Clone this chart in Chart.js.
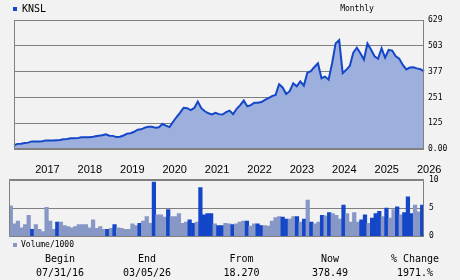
<!DOCTYPE html>
<html><head><meta charset="utf-8">
<script src="https://cdn.jsdelivr.net/npm/chart.js@4.4.1/dist/chart.umd.min.js"></script>
<style>
html,body{margin:0;padding:0;background:#f2f2f2;width:460px;height:280px;overflow:hidden;position:relative;}
canvas{position:absolute;left:0;}
#price{top:0;}
#vol{top:170px;}
.t{position:absolute;font-family:"DejaVu Sans Mono",monospace;color:#000;white-space:nowrap;}
.sq{position:absolute;width:4px;height:4px;}
.c{width:90px;text-align:center;}
</style></head><body>
<canvas id="price" width="460" height="180"></canvas>
<canvas id="vol" width="460" height="76"></canvas>
<div class="sq" style="left:13px;top:7px;background:#1446c8"></div>
<div class="t" id="sym" style="left:22px;top:3px;font-size:10px;line-height:12px"></div>
<div class="t" id="period" style="left:317px;top:4px;width:80px;text-align:center;font-size:8px;line-height:10px"></div>
<div class="sq" style="left:13px;top:243px;background:#8798c6"></div>
<div class="t" id="volLabel" style="left:21px;top:240px;font-size:8px;line-height:10px"></div>
<div id="table"></div>
<script>
// ---- data ----
const symbol = 'KNSL';
const period = 'Monthly';
const volumeLabel = 'Volume/1000';
const startYear = 2016, startMonth = 7, monthCount = 117;
const months = [];
for (let i = 0; i < monthCount; i++) {
  const m = (startMonth - 1 + i) % 12, y = startYear + Math.floor((startMonth - 1 + i) / 12);
  months.push(y + '-' + String(m + 1).padStart(2, '0'));
}
const prices = [
  18.27, 25, 26, 29, 31, 37, 37, 37, 38, 42, 42, 42, 43, 44, 47, 49, 52, 52, 53, 57,
  57, 57, 58, 62, 65, 67, 72, 65, 64, 58, 60, 66, 75, 77, 84, 94, 96, 104, 109, 108,
  104, 106, 122, 114, 107, 133, 156, 177, 201, 199, 190, 200, 231, 199, 184, 174, 169, 176, 170, 168,
  180, 187, 170, 196, 214, 236, 208, 214, 226, 226, 229, 239, 248, 258, 263, 316, 300, 268, 282, 320,
  306, 330, 309, 372, 380, 400, 418, 345, 353, 338, 418, 515, 531, 370, 386, 405, 470, 494, 467, 436,
  515, 485, 452, 440, 491, 445, 483, 480, 452, 440, 410, 388, 397, 398, 393, 389, 378.49
];
const volumes = [
  5.4, 2.2, 2.7, 1.5, 2.05, 3.7, 1.2, 2.05, 1.2, 0.8, 5.1, 2.7, 1.2, 2.5, 2.5, 1.9, 1.7, 1.5, 1.7, 2.05,
  2.05, 2.05, 1.5, 2.9, 1.4, 1.7, 1.2, 1.2, 1.4, 2.05, 1.5, 1.4, 1.2, 1.2, 2.2, 1.9, 2.3, 2.7, 3.5, 2.3,
  9.6, 3.8, 3.8, 3.4, 4.7, 3.5, 3.5, 4.0, 2.3, 2.5, 2.9, 2.3, 2.5, 8.6, 3.8, 4.0, 4.0, 2.2, 1.9, 1.9,
  2.3, 2.2, 2.05, 2.2, 2.5, 2.7, 2.7, 1.8, 2.2, 2.2, 1.9, 1.9, 1.8, 2.7, 3.3, 3.5, 3.4, 3.05, 3.05, 3.5,
  3.5, 2.5, 3.05, 6.4, 2.5, 2.2, 2.5, 3.7, 3.6, 4.2, 4.0, 3.7, 3.05, 5.5, 4.0, 2.5, 4.2, 2.5, 2.9, 3.8,
  2.3, 3.2, 4.0, 4.4, 3.5, 5.0, 3.2, 4.7, 5.2, 3.8, 4.2, 7.0, 4.0, 5.5, 4.3, 5.5
];
const volumeUp = [
  0,0,0,0,0,0,1,0,0,0,0,0,0,1,0,0,0,0,0,0,
  0,0,0,0,0,0,0,1,0,1,0,0,0,0,0,0,1,0,0,0,
  1,0,0,0,1,0,0,0,0,0,1,1,0,1,1,1,1,0,1,1,
  0,0,1,0,0,0,1,0,0,1,1,0,0,0,0,0,1,1,0,0,
  1,0,1,0,1,0,0,1,0,1,0,0,0,1,0,0,0,0,1,1,
  0,1,1,1,0,1,0,0,1,0,1,1,1,0,0,1
];
const priceTicks = [0, 125, 251, 377, 503, 629];
const priceTickLabels = ['0.00', '125', '251', '377', '503', '629'];
const volumeTicks = [0, 5, 10];
const volumeTickLabels = ['0', '5', '10'];
const tableHeads = ['Begin', 'End', 'From', 'Now', '% Change'];
const tableValues = ['07/31/16', '03/05/26', '18.270', '378.49', '1971.%'];

// ---- styles ----
const LINE = '#1446c8', FILL = '#9dafdc', LIGHT = '#8798c6', DARK = '#1446c8', GRID = '#808080';
const MONO = '"DejaVu Sans Mono", monospace';
const colCenters = [60, 147, 241.5, 330, 415];

document.getElementById('sym').textContent = symbol;
document.getElementById('period').textContent = period;
document.getElementById('volLabel').textContent = volumeLabel;
const tbl = document.getElementById('table');
tableHeads.forEach((h, i) => {
  const a = document.createElement('div');
  a.className = 't c'; a.textContent = h;
  a.style.cssText = `left:${colCenters[i]-45}px;top:253px;font-size:10px;line-height:12px`;
  tbl.appendChild(a);
  const b = document.createElement('div');
  b.className = 't c'; b.textContent = tableValues[i];
  b.style.cssText = `left:${colCenters[i]-45}px;top:267px;font-size:10px;line-height:12px`;
  tbl.appendChild(b);
});

const frame = {
  id: 'frame',
  afterDatasetsDraw(c, args, opts) {
    const {ctx, chartArea: a} = c;
    const l = Math.round(a.left) + 0.5, r = Math.round(a.right) - 0.5, t = Math.round(a.top) + 0.5, b = Math.round(a.bottom) - 0.5;
    ctx.save();
    ctx.strokeStyle = GRID; ctx.lineWidth = 1;
    ctx.beginPath();
    ctx.moveTo(l, b); ctx.lineTo(l, t); ctx.lineTo(r, t); ctx.lineTo(r, b);
    if (opts.bottom) ctx.lineTo(l, b);
    ctx.stroke();
    ctx.restore();
  }
};

Chart.defaults.animation = false;

new Chart(document.getElementById('price'), {
  type: 'line',
  data: {
    labels: months,
    datasets: [{
      data: prices, borderColor: LINE, backgroundColor: FILL, fill: 'origin',
      borderWidth: 2, pointRadius: 0, tension: 0
    }]
  },
  options: {
    responsive: false, events: [],
    layout: {padding: {left: 9, top: 20, right: 0, bottom: 0}},
    plugins: {legend: {display: false}, tooltip: {enabled: false}, frame: {bottom: true}},
    scales: {
      x: {
        type: 'category', offset: false,
        grid: {display: false, drawTicks: false}, border: {display: false},
        ticks: {
          autoSkip: false, maxRotation: 0, minRotation: 0, align: 'start', padding: 14,
          color: '#000', font: {family: '"Liberation Sans", Arial, sans-serif', size: 11},
          callback: (v, i) => months[i].endsWith('-01') ? months[i].slice(0, 4) : ''
        },
        afterFit: s => { s.height = 31; }
      },
      y: {
        position: 'right', min: 0, max: 629,
        grid: {color: GRID, drawTicks: false}, border: {display: false},
        afterBuildTicks: s => { s.ticks = priceTicks.map(v => ({value: v})); },
        ticks: {
          padding: 4, color: '#000', font: {family: MONO, size: 8},
          callback: v => priceTickLabels[priceTicks.indexOf(v)]
        },
        afterFit: s => { s.width = 36; }
      }
    }
  },
  plugins: [frame]
});

new Chart(document.getElementById('vol'), {
  type: 'bar',
  data: {
    labels: months.slice(0, volumes.length),
    datasets: [{
      data: volumes, backgroundColor: volumeUp.map(u => u ? DARK : LIGHT),
      barPercentage: 1, categoryPercentage: 1, borderWidth: 0
    }]
  },
  options: {
    responsive: false, events: [],
    layout: {padding: {left: 9, top: 9, right: 0, bottom: 7}},
    plugins: {legend: {display: false}, tooltip: {enabled: false}, frame: {bottom: false}},
    scales: {
      x: {display: false, offset: true},
      y: {
        position: 'right', min: 0, max: 10,
        grid: {color: GRID, drawTicks: false}, border: {display: false},
        afterBuildTicks: s => { s.ticks = volumeTicks.map(v => ({value: v})); },
        ticks: {
          padding: 5, color: '#000', font: {family: MONO, size: 8},
          callback: v => volumeTickLabels[volumeTicks.indexOf(v)]
        },
        afterFit: s => { s.width = 36; }
      }
    }
  },
  plugins: [frame]
});
</script>
</body></html>
